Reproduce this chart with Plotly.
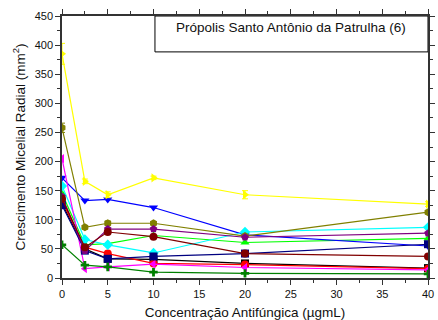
import plotly.graph_objects as go

x = [0, 2.5, 5, 10, 20, 40]

black = [128, 50, 33, 32, 25, 17]
red = [132, 53, 42, 25, 23, 16]
green = [145, 57, 59, 73, 61, 68]
blue = [172, 133, 135, 121, 74, 55]
cyan = [158, 66, 57, 43, 79, 87]
magenta = [205, 16, 19, 24, 18, 14]
yellow = [385, 166, 143, 172, 143, 127]
olive = [258, 87, 94, 94, 72, 113]
navy = [125, 47, 33, 37, 42, 58]
purple = [140, 47, 84, 84, 70, 77]
wine = [136, 53, 79, 71, 42, 37]
darkgreen = [57, 22, 19, 10, 8, 7]

yellow_err = [18, 4, 5, 3, 7, 4]
olive_err = [8, 3, 4, 3, 3, 3]

series = [
    ("black", black, "#000000", "square", None),
    ("red", red, "#FF0000", "circle", None),
    ("green", green, "#00FF00", "triangle-up", None),
    ("blue", blue, "#0000FF", "triangle-down", None),
    ("cyan", cyan, "#00FFFF", "diamond", None),
    ("magenta", magenta, "#FF00FF", "triangle-left", None),
    ("yellow", yellow, "#FFFF00", "triangle-right", yellow_err),
    ("olive", olive, "#808000", "hexagon", olive_err),
    ("navy", navy, "#000080", "square", None),
    ("purple", purple, "#800080", "pentagon", None),
    ("wine", wine, "#800000", "circle", None),
    ("darkgreen", darkgreen, "#008000", "cross", None),
]

fig = go.Figure()
for name, ys, col, sym, err in series:
    tr = dict(
        x=x, y=ys, mode="lines+markers", name=name,
        line=dict(color=col, width=1.2),
        marker=dict(color=col, symbol=sym, size=8 if sym != "cross" else 7),
        showlegend=False,
    )
    if err is not None:
        tr["error_y"] = dict(type="data", array=err, color=col, thickness=1, width=3)
    fig.add_trace(go.Scatter(**tr))

axis_common = dict(
    showline=True, linecolor="#333333", linewidth=1.5, mirror="allticks",
    ticks="outside", ticklen=5, tickwidth=1, tickcolor="#333333",
    showgrid=False, zeroline=False, automargin=False,
    tickfont=dict(family="Liberation Sans, Arial", size=11, color="#111111"),
)

fig.update_xaxes(
    range=[0, 40], dtick=5, tick0=0,
    minor=dict(dtick=2.5, ticks="outside", ticklen=3, tickcolor="#333333"),
    title=dict(text="Concentração Antifúngica (µgmL)", standoff=10,
               font=dict(family="Liberation Sans, Arial", size=13.5, color="#111111")),
    **axis_common,
)
fig.update_yaxes(
    range=[0, 450], dtick=50, tick0=0,
    minor=dict(dtick=25, ticks="outside", ticklen=3, tickcolor="#333333"),
    title=dict(text="Crescimento Micelial Radial (mm<sup>2</sup>)", standoff=6,
               font=dict(family="Liberation Sans, Arial", size=13.5, color="#111111")),
    **axis_common,
)

fig.add_shape(type="rect", xref="paper", yref="paper",
              x0=0.254, x1=1.0, y0=0.863, y1=1.0,
              line=dict(color="#000000", width=1), fillcolor="white", layer="below")
fig.add_annotation(xref="paper", yref="paper", x=0.627, y=0.956,
                   xanchor="center", yanchor="middle",
                   text="Própolis Santo Antônio da Patrulha (6)", showarrow=False,
                   font=dict(family="Liberation Sans, Arial", size=13.5, color="#111111"))

fig.update_layout(
    width=438, height=320,
    margin=dict(l=62, r=10, t=16, b=42),
    paper_bgcolor="white", plot_bgcolor="white",
)

fig.write_html("out.html")
